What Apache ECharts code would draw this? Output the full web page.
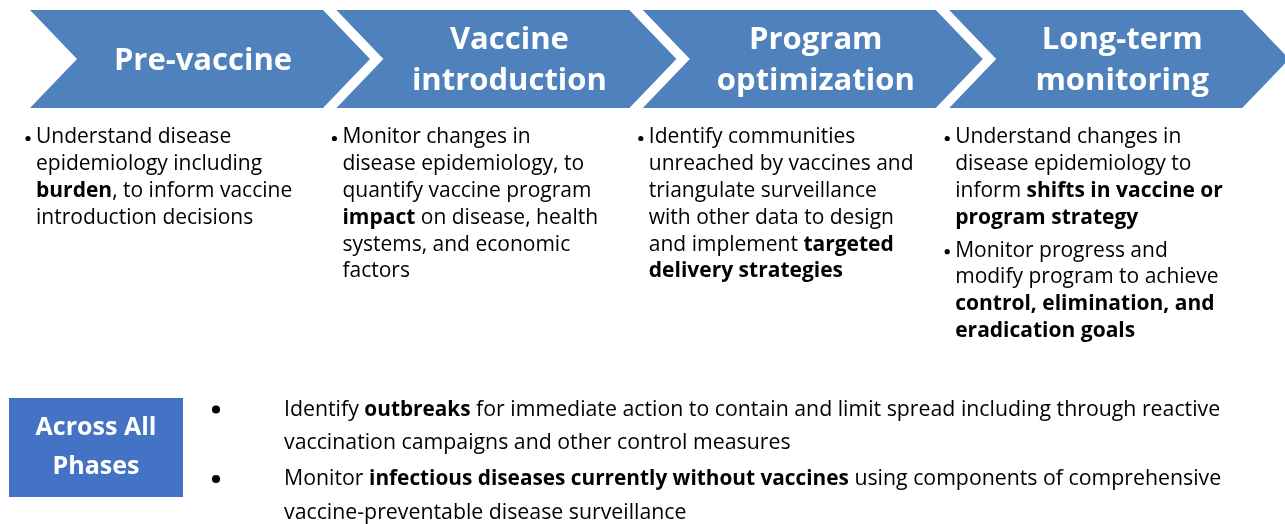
<!DOCTYPE html>
<html><head><meta charset="utf-8">
<script src="https://cdn.jsdelivr.net/npm/echarts@6/dist/echarts.min.js"></script>
<style>html,body{margin:0;padding:0;background:#fff}#c{width:1285px;height:524px}</style>
</head><body><div id="c"></div>
<script>
// Phase titles (lines)
const phases = [
  ["Pre-vaccine"],
  ["Vaccine", "introduction"],
  ["Program", "optimization"],
  ["Long-term", "monitoring"]
];
// Phase bullet texts: each bullet is a list of lines, each line a list of [text, bold]
const phaseBullets = [
  [[ [["Understand disease",0]], [["epidemiology including",0]], [["burden",1],[", to inform vaccine",0]], [["introduction decisions",0]] ]],
  [[ [["Monitor changes in",0]], [["disease epidemiology, to",0]], [["quantify vaccine program",0]], [["impact",1],[" on disease, health",0]], [["systems, and economic",0]], [["factors",0]] ]],
  [[ [["Identify communities",0]], [["unreached by vaccines and",0]], [["triangulate surveillance",0]], [["with other data to design",0]], [["and implement ",0],["targeted",1]], [["delivery strategies",1]] ]],
  [
    [ [["Understand changes in",0]], [["disease epidemiology to",0]], [["inform ",0],["shifts in vaccine or",1]], [["program strategy",1]] ],
    [ [["Monitor progress and",0]], [["modify program to achieve",0]], [["control, elimination, and",1]], [["eradication goals",1]] ]
  ]
];
const acrossLabel = ["Across All", "Phases"];
const acrossBullets = [
  [ [["Identify ",0],["outbreaks",1],[" for immediate action to contain and limit spread including through reactive",0]], [["vaccination campaigns and other control measures",0]] ],
  [ [["Monitor ",0],["infectious diseases currently without vaccines",1],[" using components of comprehensive",0]], [["vaccine-preventable disease surveillance",0]] ]
];

const FONT = '"Open Sans", "Noto Sans", sans-serif';
const chart = echarts.init(document.getElementById('c'), null, {renderer: 'canvas'});

function richText(lines) {
  return lines.map(l => l.map(([t, b]) => '{' + (b ? 'b' : 'n') + '|' + t + '}').join('')).join('\n');
}
function rich(fs, lh, bfs) {
  return {
    n: {fontSize: fs, fontFamily: FONT, fontWeight: 'normal', lineHeight: lh, fill: '#000', color: '#000'},
    b: {fontSize: bfs || fs, fontFamily: FONT, fontWeight: 'bold', lineHeight: lh, fill: '#000', color: '#000'}
  };
}

const elements = [];
const step = 306.4, x0base = 30, yTop = 10, yBot = 108, depth = 47, bodyW = 293;
phases.forEach((title, i) => {
  const x0 = x0base + i * step;
  const yMid = (yTop + yBot) / 2;
  elements.push({
    type: 'polygon',
    shape: {points: [[x0, yTop], [x0 + bodyW, yTop], [x0 + bodyW + depth, yMid], [x0 + bodyW, yBot], [x0, yBot], [x0 + depth, yMid]]},
    style: {fill: '#4F81BD'}
  });
  elements.push({
    type: 'text',
    x: x0 + 173, y: yMid + 2,
    style: {
      text: title.join('\n'), fill: '#fff', font: 'bold 31px ' + FONT,
      lineHeight: 41, align: 'center', verticalAlign: 'middle'
    }
  });
  // bullets
  let y = 124;
  phaseBullets[i].forEach(lines => {
    elements.push({
      type: 'circle', shape: {cx: x0 - 2, cy: y + 14.5, r: 2.6}, style: {fill: '#000'}
    });
    elements.push({
      type: 'text', x: x0 + 6, y: y,
      style: {text: richText(lines), rich: rich(21, 26.8), verticalAlign: 'top', align: 'left'}
    });
    y += lines.length * 26.8 + 6;
  });
});

// Across all phases box
elements.push({type: 'rect', shape: {x: 9, y: 398, width: 174, height: 99}, style: {fill: '#4472C4'}});
elements.push({
  type: 'text', x: 96, y: 447.5,
  style: {text: acrossLabel.join('\n'), fill: '#fff', font: 'bold 25px ' + FONT, lineHeight: 39, align: 'center', verticalAlign: 'middle'}
});
let by = 393;
acrossBullets.forEach(lines => {
  elements.push({
    type: 'circle', shape: {cx: 216, cy: by + 16.5, r: 4}, style: {fill: '#000'}
  });
  elements.push({
    type: 'text', x: 284, y: by,
    style: {text: richText(lines), rich: rich(21.3, 33.5, 20.8), verticalAlign: 'top', align: 'left'}
  });
  by += lines.length * 33.5 + 2.5;
});

chart.setOption({animation: false, graphic: {elements}});
</script></body></html>
